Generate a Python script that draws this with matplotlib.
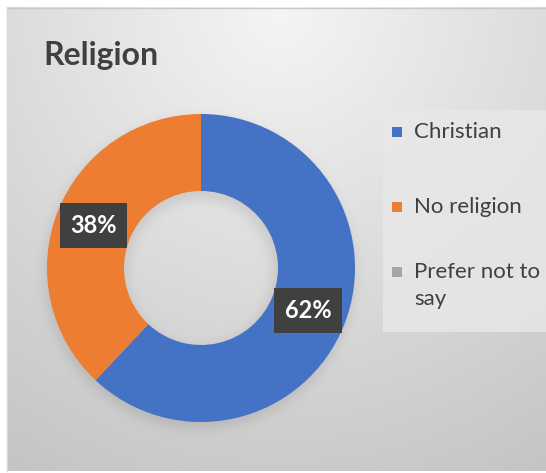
import numpy as np
import matplotlib
matplotlib.use("Agg")
import matplotlib.pyplot as plt
from matplotlib.patches import Rectangle

categories = ["Christian", "No religion", "Prefer not to\nsay"]
shares = [62, 38, 0]
colors = ["#4472C4", "#ED7D31", "#A5A5A5"]
title = "Religion"

W, H = 546, 473
DPI = 100
fig = plt.figure(figsize=(W / DPI, H / DPI), dpi=DPI)
fig.patch.set_facecolor("white")

# background: radial grey gradient plus a soft shadow under the ring
bg = fig.add_axes([0, 0, 1, 1])
bg.set_xlim(0, W)
bg.set_ylim(H, 0)
bg.axis("off")
yy, xx = np.mgrid[0:H, 0:W]
d = np.hypot(xx - 280, yy - 10)
img = 0.96 - 0.00036 * d

cx, cy, R, r = 201, 268, 154, 77
dd = np.hypot(xx - cx + 2, yy - cy - 5)
ring = ((dd <= R + 1) & (dd >= r - 3)).astype(float)
k = np.exp(-0.5 * (np.arange(-15, 16) / 6.0) ** 2)
k /= k.sum()
blur = np.apply_along_axis(lambda v: np.convolve(v, k, mode="same"), 0, ring)
blur = np.apply_along_axis(lambda v: np.convolve(v, k, mode="same"), 1, blur)
img = img - 0.09 * blur
img = np.clip(img, 0, 1)
rgb = np.dstack([img, img, img])
rgb[:8, :, :] = 1.0
rgb[:, :7, :] = 1.0
rgb[471:, :, :] = 1.0
bg.imshow(rgb, extent=(0, W, H, 0), interpolation="bilinear", aspect="auto")
bg.plot([7, W], [8, 8], color="#c8c8c8", lw=1)
bg.plot([7, 7], [8, 471], color="#d8d8d8", lw=1)

# title
bg.text(43, 65, title, fontsize=23, fontweight="bold", color="#404040",
        family=["Lato", "DejaVu Sans"], va="baseline", ha="left")

# legend box and entries
bg.add_patch(Rectangle((383, 110), W - 383, 222, facecolor="#e8e8e8",
                       alpha=0.8, edgecolor="none"))
rows = [132, 207, 272]
for cat, col, yrow in zip(categories, colors, rows):
    bg.add_patch(Rectangle((392, yrow - 5), 10, 10, facecolor=col, edgecolor="none"))
    bg.text(414, yrow - 10, cat, fontsize=16, color="#404040",
            family=["Lato", "DejaVu Sans"], va="top", ha="left",
            linespacing=1.45)

# donut
span = 2.2
side = R * span
ax = fig.add_axes([(cx - side / 2) / W, (H - cy - side / 2) / H, side / W, side / H])


def fmt(p):
    return f"{p:.0f}%" if p > 0.5 else ""


wedges, _, autotexts = ax.pie(shares, colors=colors, startangle=90, counterclock=False,
                              radius=1.0, wedgeprops=dict(width=0.5, edgecolor="none"),
                              autopct=fmt, pctdistance=0.75)
ax.set_xlim(-1.1, 1.1)
ax.set_ylim(-1.1, 1.1)
ax.set_aspect("equal")
ax.axis("off")
for t in autotexts:
    t.set_color("white")
    t.set_fontweight("bold")
    t.set_fontsize(17)
    t.set_family(["Lato", "DejaVu Sans"])
    t.set_bbox(dict(boxstyle="square,pad=0.45", facecolor="#404040", edgecolor="none"))

fig.savefig("out.png", dpi=DPI)
